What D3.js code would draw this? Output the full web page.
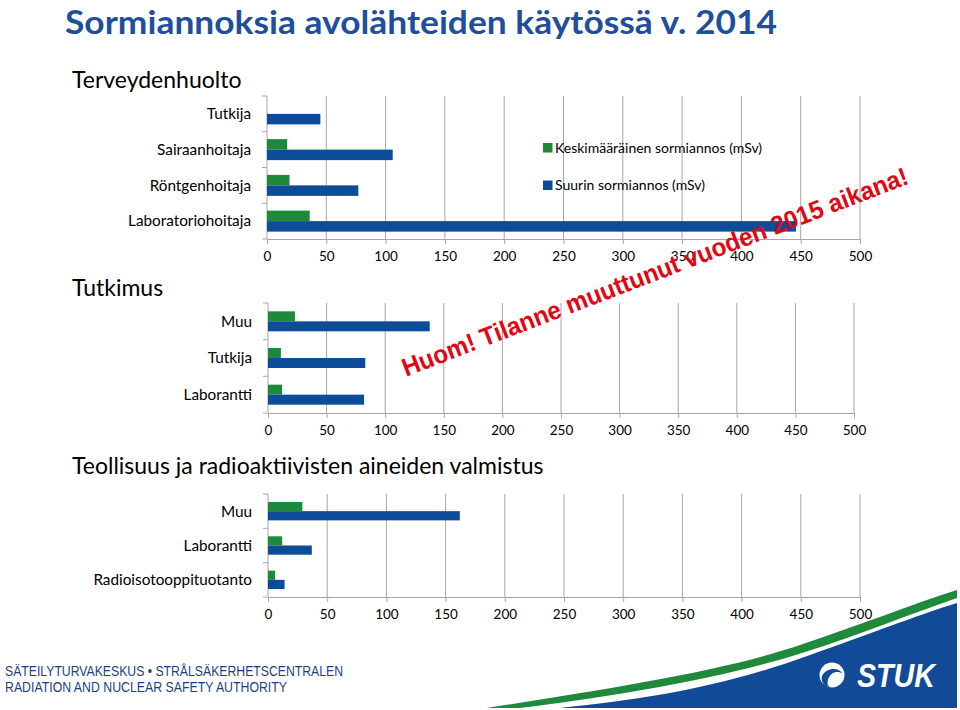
<!DOCTYPE html>
<html>
<head>
<meta charset="utf-8">
<script src="https://cdn.jsdelivr.net/npm/d3@7"></script>
<style>
  html, body { margin: 0; padding: 0; background: #ffffff; }
  svg { display: block; }
</style>
</head>
<body>
<svg id="chart" width="960" height="710"></svg>
<script>
// ---------------- DATA ----------------
const titleText = "Sormiannoksia avolähteiden käytössä v. 2014";
const sectionTitles = ["Terveydenhuolto", "Tutkimus", "Teollisuus ja radioaktiivisten aineiden valmistus"];
const seriesNames = ["Keskimääräinen sormiannos (mSv)", "Suurin sormiannos (mSv)"];

const healthCategories = ["Tutkija", "Sairaanhoitaja", "Röntgenhoitaja", "Laboratoriohoitaja"];
const healthAverage = [null, 17, 19, 36];
const healthMaximum = [45, 106, 77, 446];

const researchCategories = ["Muu", "Tutkija", "Laborantti"];
const researchAverage = [23, 11, 12];
const researchMaximum = [138, 83, 82];

const industryCategories = ["Muu", "Laborantti", "Radioisotooppituotanto"];
const industryAverage = [29, 12, 6];
const industryMaximum = [162, 37, 14];

const xTickValues = [0, 50, 100, 150, 200, 250, 300, 350, 400, 450, 500];

const watermarkText = "Huom! Tilanne muuttunut vuoden 2015 aikana!";
const footerLines = ["SÄTEILYTURVAKESKUS • STRÅLSÄKERHETSCENTRALEN", "RADIATION AND NUCLEAR SAFETY AUTHORITY"];
const logoText = "STUK";

// ---------------- STYLE ----------------
const colors = { avg: "#1c8a3a", max: "#0d4c99", grid: "#a6a6a6", title: "#1f4f9c", footer: "#1d3f80", red: "#e30613" };
const font = "Lato, 'Open Sans', sans-serif";

const svg = d3.select("#chart");

// Title
svg.append("text")
  .attr("x", 65).attr("y", 34)
  .attr("font-family", font).attr("font-weight", 700)
  .attr("font-size", 33).attr("fill", colors.title)
  .attr("textLength", 712).attr("lengthAdjust", "spacingAndGlyphs")
  .text(titleText);

// Section headings
const headingY = [88, 296, 474];
sectionTitles.forEach((t, i) => {
  svg.append("text")
    .attr("x", 72).attr("y", headingY[i])
    .attr("font-family", font).attr("font-size", 23).attr("fill", "#000")
    .text(t);
});

function drawChart(cfg) {
  const g = svg.append("g");
  const x = d3.scaleLinear().domain([0, 500]).range([cfg.x0, cfg.x1]);
  const y0 = d3.scaleBand().domain(cfg.categories).range([cfg.top, cfg.bottom]).padding(0);
  const y1 = d3.scaleBand().domain(seriesNames).range([-cfg.barH, cfg.barH]);

  // gridlines
  g.append("g").selectAll("line")
    .data(xTickValues.filter(v => v > 0))
    .join("line")
    .attr("x1", d => x(d)).attr("x2", d => x(d))
    .attr("y1", cfg.top).attr("y2", cfg.bottom)
    .attr("stroke", colors.grid).attr("stroke-width", 1);

  // bottom axis
  const ax = g.append("g")
    .attr("transform", `translate(0,${cfg.bottom})`)
    .call(d3.axisBottom(x).tickValues(xTickValues).tickSize(5).tickPadding(7).tickSizeOuter(0));
  ax.select(".domain").attr("stroke", colors.grid);
  ax.selectAll(".tick line").attr("stroke", colors.grid);
  ax.selectAll(".tick text").attr("font-family", font).attr("font-size", 13.5).attr("fill", "#000");

  // left axis with ticks at category boundaries
  g.append("line")
    .attr("x1", cfg.x0).attr("x2", cfg.x0)
    .attr("y1", cfg.top).attr("y2", cfg.bottom)
    .attr("stroke", colors.grid);
  const boundaries = cfg.categories.map(c => y0(c)).concat([cfg.bottom]);
  g.append("g").selectAll("line")
    .data(boundaries)
    .join("line")
    .attr("x1", cfg.x0 - 5).attr("x2", cfg.x0)
    .attr("y1", d => d).attr("y2", d => d)
    .attr("stroke", colors.grid);

  // category labels
  g.append("g").selectAll("text")
    .data(cfg.categories)
    .join("text")
    .attr("x", cfg.x0 - 16)
    .attr("y", d => y0(d) + y0.bandwidth() / 2)
    .attr("dy", "0.35em")
    .attr("text-anchor", "end")
    .attr("font-family", font).attr("font-size", 15.3).attr("fill", "#000")
    .text(d => d);

  // bars
  const rows = [];
  cfg.categories.forEach((c, i) => {
    rows.push({ cat: c, series: seriesNames[0], value: cfg.avg[i], color: colors.avg });
    rows.push({ cat: c, series: seriesNames[1], value: cfg.max[i], color: colors.max });
  });
  g.append("g").selectAll("rect")
    .data(rows.filter(r => r.value != null))
    .join("rect")
    .attr("x", x(0))
    .attr("y", d => y0(d.cat) + y0.bandwidth() / 2 + y1(d.series))
    .attr("width", d => x(d.value) - x(0))
    .attr("height", y1.bandwidth())
    .attr("fill", d => d.color);
}

drawChart({ categories: healthCategories, avg: healthAverage, max: healthMaximum,
  x0: 267, x1: 860, top: 96, bottom: 239, barH: 10.5 });
drawChart({ categories: researchCategories, avg: researchAverage, max: researchMaximum,
  x0: 268, x1: 854, top: 303, bottom: 413, barH: 10 });
drawChart({ categories: industryCategories, avg: industryAverage, max: industryMaximum,
  x0: 268, x1: 860, top: 494, bottom: 597, barH: 9.2 });

// Legend
const legend = svg.append("g").attr("transform", "translate(543,143)");
seriesNames.forEach((s, i) => {
  legend.append("rect").attr("x", 0).attr("y", i * 37.5).attr("width", 9.5).attr("height", 9.5)
    .attr("fill", i === 0 ? colors.avg : colors.max);
  legend.append("text").attr("x", 12).attr("y", i * 37.5 + 4.75).attr("dy", "0.35em")
    .attr("font-family", font).attr("font-size", 14).attr("fill", "#000")
    .text(s);
});

// Watermark
svg.append("text")
  .attr("transform", "translate(658,280) rotate(-21)")
  .attr("text-anchor", "middle")
  .attr("font-family", "'Liberation Sans', Arial, sans-serif").attr("font-weight", 700)
  .attr("font-size", 25.5).attr("fill", colors.red)
  .attr("textLength", 540).attr("lengthAdjust", "spacingAndGlyphs")
  .text(watermarkText);

// Footer
footerLines.forEach((t, i) => {
  svg.append("text")
    .attr("x", 5).attr("y", 676 + i * 16)
    .attr("font-family", "'Liberation Sans Narrow', 'Liberation Sans', Arial, sans-serif")
    .attr("font-size", 14).attr("fill", colors.footer)
    .attr("textLength", i === 0 ? 338 : 282).attr("lengthAdjust", "spacingAndGlyphs")
    .text(t);
});

// Decorative swoosh and logo
svg.append("path")
  .attr("d", "M487,708 C600,690 720,672 800,645 C860,625 910,605 957,590 L957,598 C910,614 862,634 805,652 C725,678 610,697 520,708 Z")
  .attr("fill", "#1f8a3c");
svg.append("path")
  .attr("d", "M560,708 C640,700 720,688 810,655 C870,634 915,616 957,603 L957,708 Z")
  .attr("fill", "#114a96");
const logo = svg.append("g");
logo.append("circle").attr("cx", 832).attr("cy", 675).attr("r", 12.5).attr("fill", "#ffffff");
logo.append("path")
  .attr("d", "M822,676 C826,668 838,666 843,674 C838,670 830,672 828,680 C826,686 830,688 834,688 C826,688 820,683 822,676 Z")
  .attr("fill", "#114a96");
logo.append("text")
  .attr("x", 857).attr("y", 687)
  .attr("font-family", "'Liberation Sans Narrow', 'Liberation Sans', Arial, sans-serif")
  .attr("font-weight", 700).attr("font-style", "italic")
  .attr("font-size", 33).attr("fill", "#ffffff")
  .attr("textLength", 78).attr("lengthAdjust", "spacingAndGlyphs")
  .text(logoText);
</script>
</body>
</html>
